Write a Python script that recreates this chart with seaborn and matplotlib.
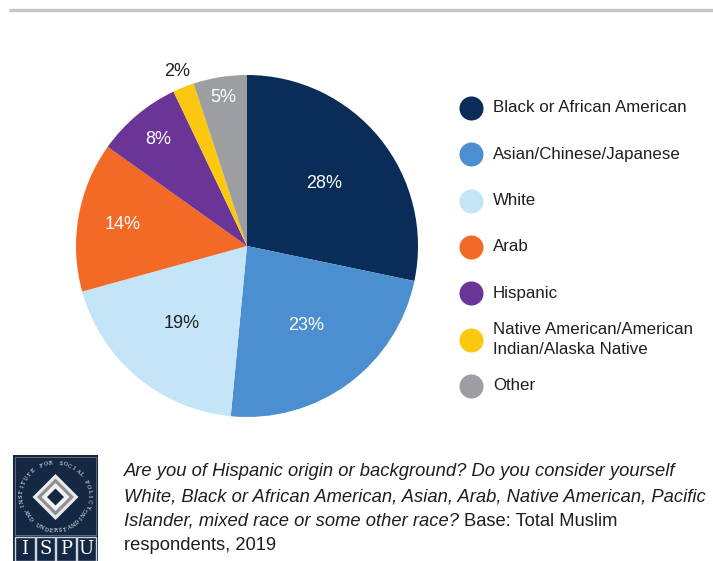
import numpy as np
import matplotlib
matplotlib.use("Agg")
import matplotlib.pyplot as plt
from matplotlib.patches import Rectangle, Polygon
import seaborn as sns

categories = ["Black or African American", "Asian/Chinese/Japanese", "White", "Arab",
              "Hispanic", "Native American/American\nIndian/Alaska Native", "Other"]
values = [28, 23, 19, 14, 8, 2, 5]
labels = ["28%", "23%", "19%", "14%", "8%", "2%", "5%"]
colors = ["#0a2d57", "#4b8fd1", "#c4e4f8", "#f26a25", "#6a3597", "#fcc70f", "#9c9ea1"]
label_colors = ["white", "white", "#222222", "white", "white", "#222222", "white"]
label_radius = [0.58, 0.58, 0.59, 0.74, 0.81, 1.10, 0.88]

caption_lines = [
    "Are you of Hispanic origin or background? Do you consider yourself",
    "White, Black or African American, Asian, Arab, Native American, Pacific",
]
caption_line3_italic = "Islander, mixed race or some other race? "
caption_line3_plain = "Base: Total Muslim"
caption_line4 = "respondents, 2019"

sns.set_theme(style="white")
plt.rcParams["font.family"] = ["Liberation Sans", "DejaVu Sans"]

W, H = 713, 561
fig = plt.figure(figsize=(W / 100, H / 100), dpi=100)
fig.patch.set_facecolor("white")

def px_axes(x0, y0, w, h):
    return fig.add_axes([x0 / W, 1 - (y0 + h) / H, w / W, h / H])

# top gray rule
top = px_axes(0, 0, W, H)
top.set_xlim(0, W); top.set_ylim(H, 0); top.axis("off")
top.plot([9, W], [10, 10], color="#c6c6c6", lw=2.4, solid_capstyle="butt")

# pie
cx, cy, R = 247, 246, 171
ax = px_axes(cx - R, cy - R, 2 * R, 2 * R)
wedges, _ = ax.pie(values, colors=colors, startangle=90, counterclock=False,
                   radius=1.0, wedgeprops=dict(linewidth=0))
ax.set_xlim(-1, 1); ax.set_ylim(-1, 1); ax.set_aspect("equal")
for w, lab, col, r in zip(wedges, labels, label_colors, label_radius):
    ang = np.deg2rad((w.theta1 + w.theta2) / 2)
    ax.text(r * np.cos(ang), r * np.sin(ang), lab, ha="center", va="center",
            color=col, fontsize=13, clip_on=False)

# legend
lg = px_axes(440, 80, 273, 330)
lg.set_xlim(440, 713); lg.set_ylim(410, 80); lg.axis("off")
for i, (cat, col) in enumerate(zip(categories, colors)):
    y = 108 + i * 46.3
    lg.scatter([471], [y], s=300, color=col, linewidths=0, clip_on=False)
    lg.text(493, y, cat, ha="left", va="center", fontsize=12.2, color="#1e1e1e",
            linespacing=1.45)

# caption
cap = px_axes(0, 440, W, 121)
cap.set_xlim(0, W); cap.set_ylim(561, 440); cap.axis("off")
fs = 13.2
ys = [472, 496.5, 521, 546]
for y, line in zip(ys[:2], caption_lines):
    cap.text(124, y, line, style="italic", fontsize=fs, color="#1e1e1e", va="center")
t3 = cap.text(124, ys[2], caption_line3_italic, style="italic", fontsize=fs,
              color="#1e1e1e", va="center")
fig.canvas.draw()
bb = t3.get_window_extent(renderer=fig.canvas.get_renderer())
cap.text(124 + bb.width, ys[2], caption_line3_plain, fontsize=fs, color="#1e1e1e", va="center")
cap.text(124, ys[3], caption_line4, fontsize=fs, color="#1e1e1e", va="center")

# logo
lo = px_axes(13, 455, 85, 106)
lo.set_xlim(0, 85); lo.set_ylim(106, 0); lo.axis("off")
navy = "#142844"
lo.add_patch(Rectangle((0, 0), 85, 106, color=navy))
lo.add_patch(Rectangle((2, 2), 81, 78, fill=False, ec="#6d7585", lw=0.6))
mx, my = 42.5, 42
for s, c in [(23, "#e9e9e9"), (18.5, "#8d9094"), (14, "#f2f2f2"), (8.5, navy)]:
    lo.add_patch(Polygon([(mx, my - s), (mx + s, my), (mx, my + s), (mx - s, my)],
                         closed=True, color=c, lw=0))

def arc_text(txt, a0, a1, r, top_side=True):
    angs = np.linspace(a0, a1, len(txt))
    for ch, a in zip(txt, angs):
        ar = np.deg2rad(a)
        x = mx + r * np.cos(ar)
        y = my - r * np.sin(ar)
        rot = a - 90 if top_side else a + 90
        lo.text(x, y, ch, fontsize=3.8, color="white", ha="center", va="center",
                rotation=rot, family="DejaVu Serif")

arc_text("INSTITUTE FOR SOCIAL POLICY", 195, -15, 34, True)
arc_text("AND UNDERSTANDING", 205, 335, 34, False)
for i, ch in enumerate("ISPU"):
    x0 = 2 + i * 20.5
    lo.add_patch(Rectangle((x0, 82), 19.5, 24, fill=False, ec="#cfd3da", lw=1.0))
    lo.text(x0 + 9.75, 94.5, ch, color="white", fontsize=13, ha="center", va="center",
            family="DejaVu Serif")

fig.savefig("out.png", dpi=100, facecolor="white")
